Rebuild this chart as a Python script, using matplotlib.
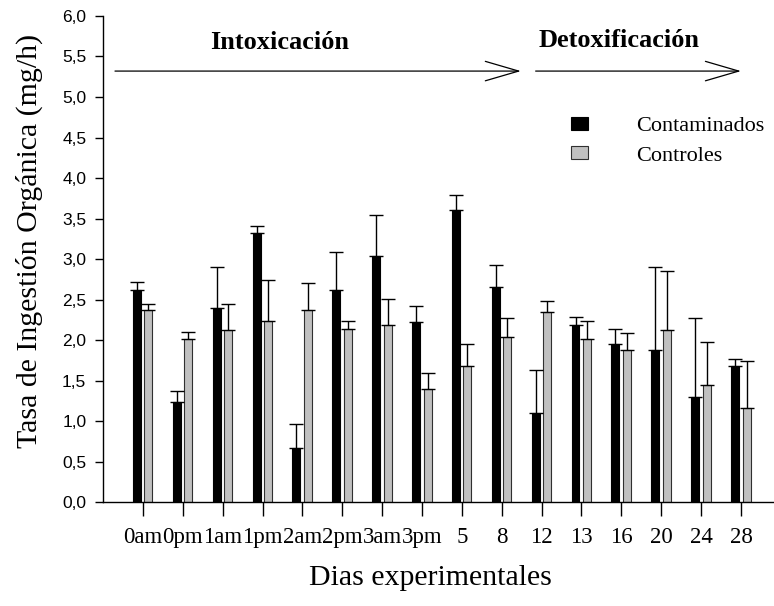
import matplotlib
matplotlib.use("Agg")
import matplotlib.pyplot as plt
import numpy as np

dias = ['0am', '0pm', '1am', '1pm', '2am', '2pm', '3am', '3pm',
        '5', '8', '12', '13', '16', '20', '24', '28']

# medias y errores (solo barra superior)
contaminados = [2.62, 1.24, 2.40, 3.32, 0.67, 2.62, 3.04, 2.22,
                3.60, 2.65, 1.10, 2.19, 1.95, 1.88, 1.30, 1.68]
contaminados_err = [0.09, 0.13, 0.50, 0.09, 0.29, 0.47, 0.50, 0.20,
                    0.19, 0.28, 0.53, 0.10, 0.18, 1.02, 0.97, 0.09]
controles = [2.37, 2.01, 2.12, 2.23, 2.37, 2.13, 2.18, 1.40,
             1.68, 2.04, 2.34, 2.01, 1.88, 2.12, 1.44, 1.16]
controles_err = [0.07, 0.09, 0.32, 0.51, 0.33, 0.10, 0.33, 0.19,
                 0.27, 0.23, 0.14, 0.23, 0.21, 0.73, 0.54, 0.58]

serif = 'Liberation Serif'
sans = 'Liberation Sans'

fig = plt.figure(figsize=(7.74, 6.06), dpi=100)
ax = fig.add_axes([0.1331, 0.1716, 0.867, 0.802])

x = np.arange(len(dias))
w = 0.2
ax.bar(x - 0.15, contaminados, w, color='black', edgecolor='black', linewidth=0.8,
       label='Contaminados', zorder=2)
ax.bar(x + 0.14, controles, w, color='#c0c0c0', edgecolor='#303030', linewidth=0.8,
       label='Controles', zorder=2)
ax.errorbar(x - 0.15, contaminados, yerr=[np.zeros(len(x)), contaminados_err],
            fmt='none', ecolor='black', elinewidth=1, capsize=4.8, capthick=1, zorder=3)
ax.errorbar(x + 0.14, controles, yerr=[np.zeros(len(x)), controles_err],
            fmt='none', ecolor='black', elinewidth=1, capsize=4.8, capthick=1, zorder=3)

ax.set_xlim(-1.0, 15.83)
ax.set_ylim(0, 6.0)
ax.set_yticks(np.arange(0, 6.01, 0.5))
ax.set_yticklabels([('%.1f' % v).replace('.', ',') for v in np.arange(0, 6.01, 0.5)],
                   fontname=sans, fontsize=12.5)
ax.set_xticks(x)
ax.set_xticklabels(dias, fontname=serif, fontsize=16.5)
ax.tick_params(axis='x', length=10, width=1, pad=8)
ax.tick_params(axis='y', length=6, width=1, pad=6)
for s in ['top', 'right']:
    ax.spines[s].set_visible(False)
for s in ['left', 'bottom']:
    ax.spines[s].set_linewidth(1)

# flechas de fases
arr = dict(arrowstyle='->,head_length=2.4,head_width=0.7', mutation_scale=10,
           lw=0.9, color='black', shrinkA=0, shrinkB=0)
ax.annotate('', xy=(9.48, 5.32), xytext=(-0.7, 5.32), arrowprops=arr)
ax.annotate('', xy=(15.0, 5.32), xytext=(9.85, 5.32), arrowprops=arr)
ax.text(3.43, 5.67, 'Intoxicación', fontname=serif, fontsize=19, fontweight='bold',
        ha='center', va='center')
ax.text(11.95, 5.70, 'Detoxificación', fontname=serif, fontsize=19, fontweight='bold',
        ha='center', va='center')

ax.legend(loc='upper left', bbox_to_anchor=(0.668, 0.833), frameon=False,
          prop={'family': serif, 'size': 16}, handlelength=0.75, handleheight=0.5,
          handletextpad=2.15, labelspacing=0.45)

fig.text(29 / 774, 1 - 241 / 606, 'Tasa de Ingestión Orgánica (mg/h)', rotation=90,
         fontname=serif, fontsize=21.5, ha='center', va='center')
fig.text(430 / 774, 1 - 578 / 606, 'Dias experimentales', fontname=serif, fontsize=21.5,
         ha='center', va='center')

fig.savefig('out.png', dpi=100)
